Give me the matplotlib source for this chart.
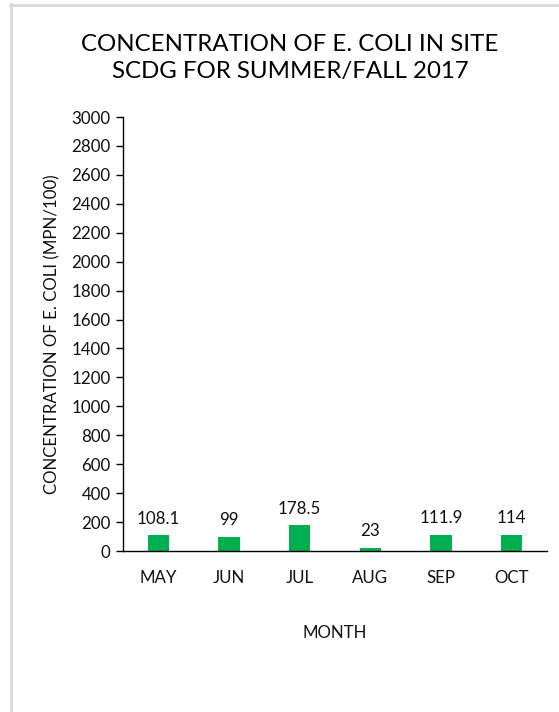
import matplotlib
matplotlib.use("Agg")
import matplotlib.pyplot as plt
from matplotlib.lines import Line2D

months = ["MAY", "JUN", "JUL", "AUG", "SEP", "OCT"]
values = [108.1, 99, 178.5, 23, 111.9, 114]
labels = ["108.1", "99", "178.5", "23", "111.9", "114"]
yticks = list(range(0, 3001, 200))

plt.rcParams['font.family'] = ['Lato', 'DejaVu Sans']
W, H = 559, 712
fig = plt.figure(figsize=(W/100, H/100), dpi=100)
ax = fig.add_axes([123/W, 1-551/H, (547-123)/W, (551-117)/H])

fs = 12.2
tc = '#111111'
x = list(range(len(months)))
ax.bar(x, values, width=0.3, color="#00B050")
ax.set_xlim(-0.5, len(months)-0.5)
ax.set_ylim(0, 3000)
ax.set_yticks(yticks)
ax.set_xticks(x)
ax.set_xticklabels(months)
ax.tick_params(axis='x', length=0, pad=14, labelsize=fs, colors=tc)
ax.tick_params(axis='y', length=5, width=1, pad=4, labelsize=fs, colors=tc, direction='out')
for s in ['top', 'right']:
    ax.spines[s].set_visible(False)
for s in ['left', 'bottom']:
    ax.spines[s].set_color('#000000')
    ax.spines[s].set_linewidth(1)
ax.tick_params(axis='y', color='#000000')

for xi, v, t in zip(x, values, labels):
    ax.annotate(t, (xi, v), xytext=(0, 6), textcoords='offset points',
                ha='center', va='bottom', fontsize=fs, color=tc)

ax.set_ylabel("CONCENTRATION OF E. COLI (MPN/100)", fontsize=fs, color=tc, labelpad=8)
ax.set_xlabel("MONTH", fontsize=fs, color=tc, labelpad=28)

fig.text(290/W, 1-58/H, "CONCENTRATION OF E. COLI IN SITE\nSCDG FOR SUMMER/FALL 2017",
         ha='center', va='center', fontsize=17.3, color='#000000', linespacing=1.3)

fig.add_artist(Line2D([10.5/W, 10.5/W], [0, 1-4/H], color='#D9D9D9', lw=2, transform=fig.transFigure))
fig.add_artist(Line2D([10/W, 1], [1-4.5/H, 1-4.5/H], color='#D9D9D9', lw=2, transform=fig.transFigure))

fig.savefig("out.png", dpi=100, facecolor='white')
